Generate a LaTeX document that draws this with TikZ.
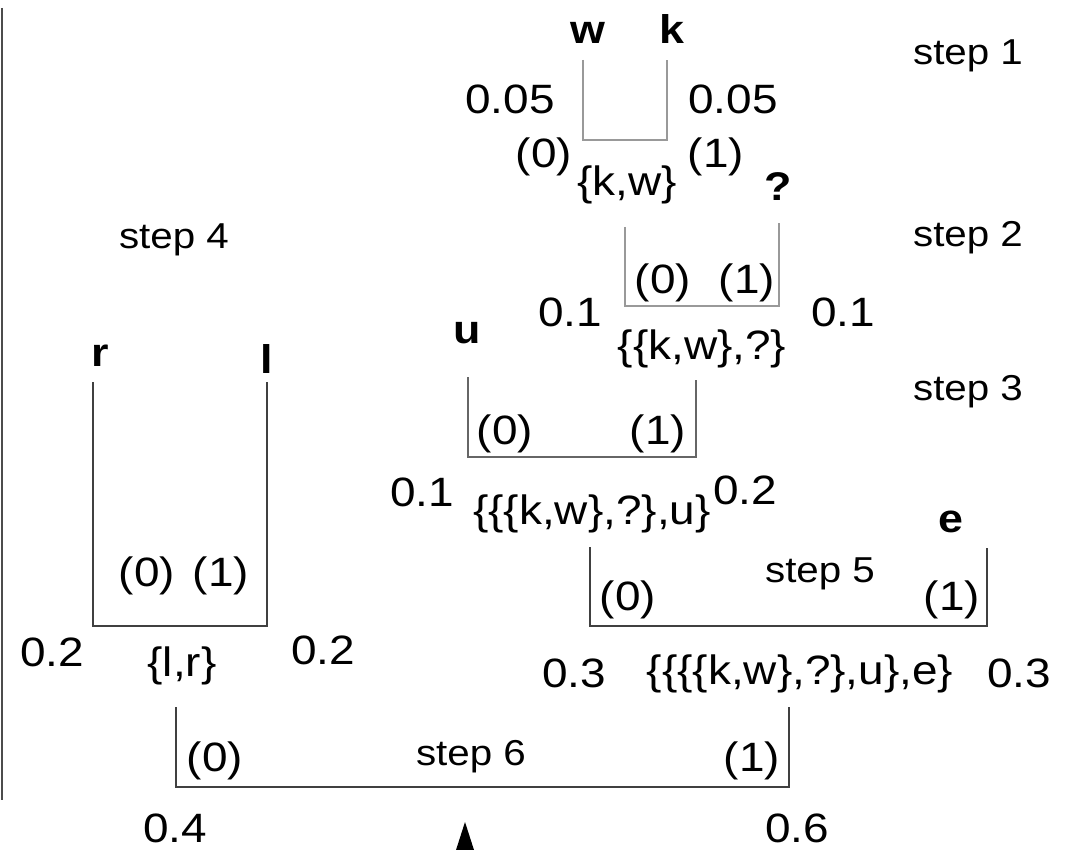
\documentclass[tikz,border=0pt]{standalone}
\usepackage{fontspec}
\setmainfont{Liberation Sans}[FakeStretch=1.12]
\begin{document}
\begin{tikzpicture}[x=1pt,y=-1pt,
  lbl/.style={inner sep=0pt, anchor=base, font=\fontsize{41}{46}\selectfont},
  sym/.style={inner sep=0pt, anchor=base, font=\fontsize{40}{46}\selectfont\bfseries},
  steplbl/.style={inner sep=0pt, anchor=base, font=\fontsize{36}{42}\selectfont},
  lightbr/.style={draw=black!40, line width=2pt},
  midbr/.style={draw=black!60, line width=2pt},
  darkbr/.style={draw=black!75, line width=2pt}]
\useasboundingbox (0,0) rectangle (1070,850);

% frame line at left
\coordinate (fa) at (2,8);
\coordinate (fb) at (2,800);
\draw[black!70, line width=2pt] (fa) -- (fb);

% step labels
\node[steplbl] (s1) at (968,65) {step 1};
\node[steplbl] (s2) at (968,247) {step 2};
\node[steplbl] (s3) at (968,400) {step 3};
\node[steplbl] (s4) at (174,248) {step 4};
\node[steplbl] (s5) at (820,582) {step 5};
\node[steplbl] (s6) at (471,765) {step 6};

% ---- step 1
\node[sym] (w) at (588,44) {w};
\node[sym] (k) at (672,44) {k};
\coordinate (b1a) at (583,60);
\coordinate (b1b) at (583,140);
\coordinate (b1c) at (667,140);
\coordinate (b1d) at (667,60);
\draw[lightbr] (b1a) -- (b1b) -- (b1c) -- (b1d);
\node[lbl] (p1l) at (510,114) {0.05};
\node[lbl] (p1r) at (733,114) {0.05};
\node[lbl] (c1l) at (544,168) {(0)};
\node[lbl] (c1r) at (716,168) {(1)};
\node[lbl] (n1) at (627,196) {\{k,w\}};

% ---- step 2
\node[sym] (q) at (778,201) {?};
\coordinate (b2a) at (625,227);
\coordinate (b2b) at (625,306);
\coordinate (b2c) at (779,306);
\coordinate (b2d) at (779,223);
\draw[lightbr] (b2a) -- (b2b) -- (b2c) -- (b2d);
\node[lbl] (c2l) at (663,293) {(0)};
\node[lbl] (c2r) at (747,293) {(1)};
\node[lbl] (p2l) at (570,326) {0.1};
\node[lbl] (p2r) at (843,326) {0.1};
\node[lbl] (n2) at (702,359) {\{\{k,w\},?\}};

% ---- step 3
\node[sym] (u) at (467,343) {u};
\coordinate (b3a) at (468,377);
\coordinate (b3b) at (468,457);
\coordinate (b3c) at (696,457);
\coordinate (b3d) at (696,380);
\draw[midbr] (b3a) -- (b3b) -- (b3c) -- (b3d);
\node[lbl] (c3l) at (505,444) {(0)};
\node[lbl] (c3r) at (658,444) {(1)};
\node[lbl] (p3l) at (422,506) {0.1};
\node[lbl] (p3r) at (745,504) {0.2};
\node[lbl] (n3) at (592,524) {\{\{\{k,w\},?\},u\}};

% ---- step 4
\node[sym] (r) at (100,366) {r};
\node[sym] (l) at (267,373) {l};
\coordinate (b4a) at (93,382);
\coordinate (b4b) at (93,626);
\coordinate (b4c) at (267,626);
\coordinate (b4d) at (267,382);
\draw[darkbr] (b4a) -- (b4b) -- (b4c) -- (b4d);
\node[lbl] (c4l) at (147,586) {(0)};
\node[lbl] (c4r) at (221,586) {(1)};
\node[lbl] (p4l) at (52,666) {0.2};
\node[lbl] (p4r) at (323,664) {0.2};
\node[lbl] (n4) at (182,676) {\{l,r\}};

% ---- step 5
\node[sym] (e) at (951,532) {e};
\coordinate (b5a) at (590,547);
\coordinate (b5b) at (590,626);
\coordinate (b5c) at (987,626);
\coordinate (b5d) at (987,548);
\draw[darkbr] (b5a) -- (b5b) -- (b5c) -- (b5d);
\node[lbl] (c5l) at (628,610) {(0)};
\node[lbl] (c5r) at (952,610) {(1)};
\node[lbl] (p5l) at (574,687) {0.3};
\node[lbl] (p5r) at (1019,687) {0.3};
\node[lbl] (n5) at (800,684) {\{\{\{\{k,w\},?\},u\},e\}};

% ---- step 6
\coordinate (b6a) at (176,707);
\coordinate (b6b) at (176,787);
\coordinate (b6c) at (789,787);
\coordinate (b6d) at (789,707);
\draw[darkbr] (b6a) -- (b6b) -- (b6c) -- (b6d);
\node[lbl] (c6l) at (215,771) {(0)};
\node[lbl] (c6r) at (752,771) {(1)};
\node[lbl] (p6l) at (175,842) {0.4};
\node[lbl] (p6r) at (797,842) {0.6};

% partial black marker at the bottom
\coordinate (ta) at (465,822);
\coordinate (tb) at (474,850);
\coordinate (tc) at (456,850);
\fill[black] (ta) -- (tb) -- (tc) -- cycle;
\end{tikzpicture}
\end{document}
